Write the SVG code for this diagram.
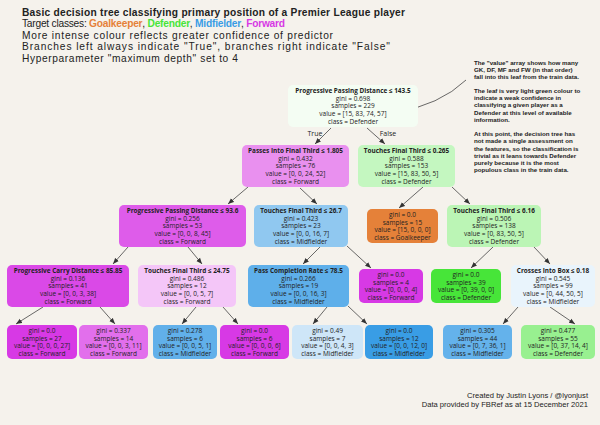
<svg xmlns="http://www.w3.org/2000/svg" width="600" height="425" viewBox="0 0 600 425">
<defs>
<marker id="ah" viewBox="0 0 10 10" refX="10" refY="5" markerUnits="userSpaceOnUse" markerWidth="6" markerHeight="6" orient="auto"><path d="M0,1 L10,5 L0,9 z" fill="#333"/></marker>
<style>
text{font-family:"Open Sans","Liberation Sans",sans-serif;fill:#222}
.t1,.t,.note,.foot{font-family:"Liberation Sans",Arial,sans-serif}
.t1{font-size:10.2px;font-weight:bold}
.t{font-size:10.2px}
.gk{fill:#e58139;font-weight:bold}
.df{fill:#47e539;font-weight:bold}
.mf{fill:#399de5;font-weight:bold}
.fw{fill:#d739e5;font-weight:bold}
.n{font-size:6.5px;text-anchor:middle}
.b{font-weight:bold;font-size:6.4px}
.lbl{font-size:7px;text-anchor:middle}
.edge{stroke:#444;stroke-width:0.8;fill:none;marker-end:url(#ah)}
.note{font-size:6.2px;font-weight:bold}
.foot{font-size:7.6px;text-anchor:end}
</style>
</defs>
<rect width="600" height="425" fill="#f5f2ec"/>
<g id="title">
<text class="t1" x="22" y="15.5" textLength="383">Basic decision tree classifying primary position of a Premier League player</text>
<text class="t" x="22" y="27" textLength="263">Target classes: <tspan class="gk">Goalkeeper</tspan>, <tspan class="df">Defender</tspan>, <tspan class="mf">Midfielder</tspan>, <tspan class="fw">Forward</tspan></text>
<text class="t" x="22" y="38.5" textLength="311">More intense colour reflects greater confidence of predictor</text>
<text class="t" x="22" y="50" textLength="368">Branches left always indicate "True", branches right indicate "False"</text>
<text class="t" x="22" y="61.5" textLength="216">Hyperparameter "maximum depth" set to 4</text>
</g>
<g id="connectors">
<path class="edge" d="M331,128 L315,144"/>
<path class="edge" d="M367,128 L385,144"/>
<path class="edge" d="M248,187 L228,204"/>
<path class="edge" d="M300,188 L317,204"/>
<path class="edge" d="M423,187 L399,208"/>
<path class="edge" d="M452,187 L470,204"/>
<path class="edge" d="M128,247 L113,264"/>
<path class="edge" d="M188,247 L202,264"/>
<path class="edge" d="M320,247 L303,264"/>
<path class="edge" d="M347,246 L371,268"/>
<path class="edge" d="M493,247 L471,268"/>
<path class="edge" d="M534,247 L550,264"/>
<path class="edge" d="M43,307 L16,324"/>
<path class="edge" d="M100,307 L115,324"/>
<path class="edge" d="M196,307 L182,324"/>
<path class="edge" d="M223,307 L238,324"/>
<path class="edge" d="M327,307 L313,324"/>
<path class="edge" d="M348,306 L367,324"/>
<path class="edge" d="M518,307 L503,324"/>
<path class="edge" d="M550,307 L575,324"/>
<path class="edge" d="M466,80 Q440,105 394,113"/>
<text class="lbl" x="315" y="135.5">True</text>
<text class="lbl" x="388" y="135.5">False</text>
</g>
<g id="n0"><rect x="288" y="85" width="130" height="42" rx="5" fill="#f4fdf3"/>
<text class="n b" x="353" y="93">Progressive Passing Distance ≤ 143.5</text>
<text class="n" x="353" y="100.7">gini = 0.698</text><text class="n" x="353" y="108.4">samples = 229</text>
<text class="n" x="353" y="116.1">value = [15, 83, 74, 57]</text><text class="n" x="353" y="123.8">class = Defender</text></g>
<g id="n1"><rect x="242" y="145" width="107" height="42" rx="5" fill="#e990ef"/>
<text class="n b" x="295.5" y="153">Passes Into Final Third ≤ 1.805</text>
<text class="n" x="295.5" y="160.7">gini = 0.432</text><text class="n" x="295.5" y="168.4">samples = 76</text>
<text class="n" x="295.5" y="176.1">value = [0, 0, 24, 52]</text><text class="n" x="295.5" y="183.8">class = Forward</text></g>
<g id="n2"><rect x="358" y="145" width="97" height="42" rx="5" fill="#c4f7c0"/>
<text class="n b" x="406.5" y="153">Touches Final Third ≤ 0.265</text>
<text class="n" x="406.5" y="160.7">gini = 0.588</text><text class="n" x="406.5" y="168.4">samples = 153</text>
<text class="n" x="406.5" y="176.1">value = [15, 83, 50, 5]</text><text class="n" x="406.5" y="183.8">class = Defender</text></g>
<g id="n3"><rect x="119" y="205" width="127" height="42" rx="5" fill="#de5cea"/>
<text class="n b" x="182.5" y="213">Progressive Passing Distance ≤ 93.6</text>
<text class="n" x="182.5" y="220.7">gini = 0.256</text><text class="n" x="182.5" y="228.4">samples = 53</text>
<text class="n" x="182.5" y="236.1">value = [0, 0, 8, 45]</text><text class="n" x="182.5" y="243.8">class = Forward</text></g>
<g id="n4"><rect x="254" y="205" width="94" height="42" rx="5" fill="#90c8f0"/>
<text class="n b" x="301" y="213">Touches Final Third ≤ 26.7</text>
<text class="n" x="301" y="220.7">gini = 0.423</text><text class="n" x="301" y="228.4">samples = 23</text>
<text class="n" x="301" y="236.1">value = [0, 0, 16, 7]</text><text class="n" x="301" y="243.8">class = Midfielder</text></g>
<g id="n5"><rect x="367" y="209" width="71" height="34" rx="5" fill="#e58139"/>
<text class="n" x="402.5" y="217">gini = 0.0</text><text class="n" x="402.5" y="224.6">samples = 15</text>
<text class="n" x="402.5" y="232.2">value = [15, 0, 0, 0]</text><text class="n" x="402.5" y="239.8">class = Goalkeeper</text></g>
<g id="n6"><rect x="447" y="205" width="94" height="42" rx="5" fill="#bbf5b5"/>
<text class="n b" x="494" y="213">Touches Final Third ≤ 6.16</text>
<text class="n" x="494" y="220.7">gini = 0.506</text><text class="n" x="494" y="228.4">samples = 138</text>
<text class="n" x="494" y="236.1">value = [0, 83, 50, 5]</text><text class="n" x="494" y="243.8">class = Defender</text></g>
<g id="n7"><rect x="7" y="265" width="122" height="42" rx="5" fill="#da49e7"/>
<text class="n b" x="68" y="273">Progressive Carry Distance ≤ 85.85</text>
<text class="n" x="68" y="280.7">gini = 0.136</text><text class="n" x="68" y="288.4">samples = 41</text>
<text class="n" x="68" y="296.1">value = [0, 0, 3, 38]</text><text class="n" x="68" y="303.8">class = Forward</text></g>
<g id="n8"><rect x="138" y="265" width="98" height="42" rx="5" fill="#f4c6f8"/>
<text class="n b" x="187" y="273">Touches Final Third ≤ 24.75</text>
<text class="n" x="187" y="280.7">gini = 0.486</text><text class="n" x="187" y="288.4">samples = 12</text>
<text class="n" x="187" y="296.1">value = [0, 0, 5, 7]</text><text class="n" x="187" y="303.8">class = Forward</text></g>
<g id="n9"><rect x="248" y="265" width="101" height="42" rx="5" fill="#5eafea"/>
<text class="n b" x="298.5" y="273">Pass Completion Rate ≤ 78.5</text>
<text class="n" x="298.5" y="280.7">gini = 0.266</text><text class="n" x="298.5" y="288.4">samples = 19</text>
<text class="n" x="298.5" y="296.1">value = [0, 0, 16, 3]</text><text class="n" x="298.5" y="303.8">class = Midfielder</text></g>
<g id="n10"><rect x="359" y="269" width="64" height="34" rx="5" fill="#d739e5"/>
<text class="n" x="391" y="277">gini = 0.0</text><text class="n" x="391" y="284.6">samples = 4</text>
<text class="n" x="391" y="292.2">value = [0, 0, 0, 4]</text><text class="n" x="391" y="299.8">class = Forward</text></g>
<g id="n11"><rect x="431" y="269" width="70" height="34" rx="5" fill="#47e539"/>
<text class="n" x="466" y="277">gini = 0.0</text><text class="n" x="466" y="284.6">samples = 39</text>
<text class="n" x="466" y="292.2">value = [0, 39, 0, 0]</text><text class="n" x="466" y="299.8">class = Defender</text></g>
<g id="n12"><rect x="511" y="265" width="84" height="42" rx="5" fill="#e9f4fc"/>
<text class="n b" x="553" y="273">Crosses Into Box ≤ 0.18</text>
<text class="n" x="553" y="280.7">gini = 0.545</text><text class="n" x="553" y="288.4">samples = 99</text>
<text class="n" x="553" y="296.1">value = [0, 44, 50, 5]</text><text class="n" x="553" y="303.8">class = Midfielder</text></g>
<g id="n13"><rect x="7" y="325" width="70" height="34" rx="5" fill="#d739e5"/>
<text class="n" x="42" y="333">gini = 0.0</text><text class="n" x="42" y="340.6">samples = 27</text>
<text class="n" x="42" y="348.2">value = [0, 0, 0, 27]</text><text class="n" x="42" y="355.8">class = Forward</text></g>
<g id="n14"><rect x="79" y="325" width="69" height="34" rx="5" fill="#e26fec"/>
<text class="n" x="113.5" y="333">gini = 0.337</text><text class="n" x="113.5" y="340.6">samples = 14</text>
<text class="n" x="113.5" y="348.2">value = [0, 0, 3, 11]</text><text class="n" x="113.5" y="355.8">class = Forward</text></g>
<g id="n15"><rect x="153" y="325" width="64" height="34" rx="5" fill="#61b0ea"/>
<text class="n" x="185" y="333">gini = 0.278</text><text class="n" x="185" y="340.6">samples = 6</text>
<text class="n" x="185" y="348.2">value = [0, 0, 5, 1]</text><text class="n" x="185" y="355.8">class = Midfielder</text></g>
<g id="n16"><rect x="220" y="325" width="69" height="34" rx="5" fill="#d739e5"/>
<text class="n" x="254.5" y="333">gini = 0.0</text><text class="n" x="254.5" y="340.6">samples = 6</text>
<text class="n" x="254.5" y="348.2">value = [0, 0, 0, 6]</text><text class="n" x="254.5" y="355.8">class = Forward</text></g>
<g id="n17"><rect x="292" y="325" width="71" height="34" rx="5" fill="#cee6f8"/>
<text class="n" x="327.5" y="333">gini = 0.49</text><text class="n" x="327.5" y="340.6">samples = 7</text>
<text class="n" x="327.5" y="348.2">value = [0, 0, 4, 3]</text><text class="n" x="327.5" y="355.8">class = Midfielder</text></g>
<g id="n18"><rect x="365" y="325" width="68" height="34" rx="5" fill="#399de5"/>
<text class="n" x="399" y="333">gini = 0.0</text><text class="n" x="399" y="340.6">samples = 12</text>
<text class="n" x="399" y="348.2">value = [0, 0, 12, 0]</text><text class="n" x="399" y="355.8">class = Midfielder</text></g>
<g id="n19"><rect x="443" y="325" width="69" height="34" rx="5" fill="#64b2eb"/>
<text class="n" x="477.5" y="333">gini = 0.305</text><text class="n" x="477.5" y="340.6">samples = 44</text>
<text class="n" x="477.5" y="348.2">value = [0, 7, 36, 1]</text><text class="n" x="477.5" y="355.8">class = Midfielder</text></g>
<g id="n20"><rect x="521" y="325" width="74" height="34" rx="5" fill="#98f090"/>
<text class="n" x="558" y="333">gini = 0.477</text><text class="n" x="558" y="340.6">samples = 55</text>
<text class="n" x="558" y="348.2">value = [0, 37, 14, 4]</text><text class="n" x="558" y="355.8">class = Defender</text></g>
<g id="note">
<text class="note" x="474" y="64.5">The "value" array shows how many</text>
<text class="note" x="474" y="71.7">GK, DF, MF and FW (in that order)</text>
<text class="note" x="474" y="78.9">fall into this leaf from the train data.</text>
<text class="note" x="474" y="93">The leaf is very light green colour to</text>
<text class="note" x="474" y="100.2">indicate a weak confidence in</text>
<text class="note" x="474" y="107.4">classifying a given player as a</text>
<text class="note" x="474" y="114.6">Defender at this level of available</text>
<text class="note" x="474" y="121.8">information.</text>
<text class="note" x="474" y="136.2">At this point, the decision tree has</text>
<text class="note" x="474" y="143.4">not made a single assessment on</text>
<text class="note" x="474" y="150.6">the features, so the classification is</text>
<text class="note" x="474" y="157.8">trivial as it leans towards Defender</text>
<text class="note" x="474" y="165">purely because it is the most</text>
<text class="note" x="474" y="172.2">populous class in the train data.</text>
</g>
<g id="footer">
<text class="foot" x="588" y="397.5">Created by Justin Lyons / @lyonjust</text>
<text class="foot" x="588" y="406.5">Data provided by FBRef as at 15 December 2021</text>
</g>
</svg>
